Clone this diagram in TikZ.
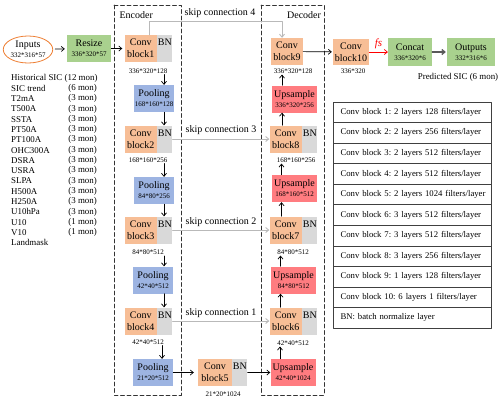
\documentclass[tikz,border=0pt]{standalone}
\usepackage{fontspec}
\setmainfont{Liberation Serif}
\usetikzlibrary{arrows.meta, calc, positioning, shapes}
\definecolor{convorange}{RGB}{247,190,150}
\definecolor{bngrey}{RGB}{217,217,217}
\definecolor{poolblue}{RGB}{157,180,226}
\definecolor{upred}{RGB}{255,124,128}
\definecolor{iogreen}{RGB}{169,209,142}
\definecolor{inorange}{RGB}{237,125,49}
\definecolor{skipgrey}{RGB}{185,185,185}
\newcommand{\dimsize}{\fontsize{7}{8}\selectfont}
\frenchspacing

\begin{document}
\begin{tikzpicture}[x=1pt, y=-1pt, line cap=round, line join=round,
	>={Straight Barb[length=3pt,width=5pt]},
	font=\fontsize{10}{12}\selectfont,
	box/.style={minimum height=27pt, inner sep=0pt, align=center},
	convbox/.style={box, fill=convorange, minimum width=32.5pt},
	bnbox/.style={box, fill=bngrey, minimum width=15pt},
	poolbox/.style={box, fill=poolblue, minimum width=40pt},
	upbox/.style={box, fill=upred, minimum width=45pt},
	greenbox/.style={box, fill=iogreen, minimum width=44pt},
	dimlabel/.style={font=\dimsize, inner sep=1pt},
	listtext/.style={font=\fontsize{8.9}{10}\selectfont, inner sep=0pt},
	tabrow/.style={draw=black!75, line width=0.6pt, minimum height=20.55pt, inner xsep=7pt, inner ysep=0pt,
		text width=143.5pt, align=left, font=\fontsize{8.7}{10}\selectfont},
	frame/.style={dashed, dash pattern=on 4pt off 2.5pt, line width=0.8pt, black!80},
	skip/.style={->, skipgrey, line width=0.9pt},
	arrow/.style={->, line width=0.7pt}]
	\useasboundingbox (0,0) rectangle (500,402);

	% encoder and decoder frames
	\draw[frame] (114,5) rectangle (181,395);
	\draw[frame] (261,5) rectangle (324,395);
	\node[anchor=west] (enc) at (116,15) {Encoder};
	\node[anchor=east] (dec) at (324.5,15) {Decoder};

	% inputs
	\node[ellipse, draw=inorange, line width=0.8pt, minimum width=46pt, minimum height=27pt, inner sep=0pt, align=center]
		(inputs) at (28,49.5) {Inputs\\[-2pt]{\dimsize 332*316*57}};
	\node[greenbox] (resize) at (89,48.5) {Resize\\[-2pt]{\dimsize 336*320*57}};
	\node[listtext, anchor=west] (hist) at (11,78) {Historical SIC (12 mon)};
	\foreach \var/\mon [count=\i] in {SIC trend/6, T2mA/3, T500A/3, SSTA/3, PT50A/3, PT100A/3, OHC300A/3,
		DSRA/3, USRA/3, SLPA/3, H500A/3, H250A/3, U10hPa/3, U10/1, V10/1} {
		\node[listtext, anchor=west] (var\i) at (11,78+\i*10.3) {\var};
		\node[listtext, anchor=east] (mon\i) at (97,78+\i*10.3) {(\mon\ mon)};
	}
	\node[listtext, anchor=west] (landmask) at (11,242.8) {Landmask};

	% encoder
	\node[convbox] (conv1) at (140.75,48.5) {Conv\\block1};
	\node[bnbox, right=0pt of conv1] (bn1) {BN\\\phantom{b}};
	\node[dimlabel] (dim1) at (148,71) {336*320*128};
	\node[poolbox] (pool1) at (154,98.5) {Pooling\\[-2pt]{\dimsize 168*160*128}};
	\node[convbox] (conv2) at (140.75,139) {Conv\\block2};
	\node[bnbox, right=0pt of conv2] (bn2) {BN\\\phantom{b}};
	\node[dimlabel] (dim2) at (148,160) {168*160*256};
	\node[poolbox] (pool2) at (154,190.5) {Pooling\\[-2pt]{\dimsize 84*80*256}};
	\node[convbox] (conv3) at (140.75,230) {Conv\\block3};
	\node[bnbox, right=0pt of conv3] (bn3) {BN\\\phantom{b}};
	\node[dimlabel] (dim3) at (148,252.5) {84*80*512};
	\node[poolbox] (pool3) at (153,280) {Pooling\\[-2pt]{\dimsize 42*40*512}};
	\node[convbox] (conv4) at (140.75,321) {Conv\\block4};
	\node[bnbox, right=0pt of conv4] (bn4) {BN\\\phantom{b}};
	\node[dimlabel] (dim4) at (148,342) {42*40*512};
	\node[poolbox] (pool4) at (153,372.5) {Pooling\\[-2pt]{\dimsize 21*20*512}};

	% bottleneck
	\node[convbox, minimum width=34pt] (conv5) at (215,372.5) {Conv\\block5};
	\node[bnbox, right=0pt of conv5] (bn5) {BN\\\phantom{b}};
	\node[dimlabel] (dim5) at (223,394) {21*20*1024};

	% decoder
	\node[convbox, minimum width=32pt] (conv9) at (287,51.5) {Conv\\block9};
	\node[dimlabel] (dim9) at (293,71) {336*320*128};
	\node[upbox] (up1) at (294.5,99) {Upsample\\[-2pt]{\dimsize 336*320*256}};
	\node[convbox] (conv8) at (285.75,139) {Conv\\block8};
	\node[bnbox, right=0pt of conv8] (bn8) {BN\\\phantom{b}};
	\node[dimlabel] (dim8) at (296,160) {168*160*256};
	\node[upbox] (up2) at (294.5,188.5) {Upsample\\[-2pt]{\dimsize 168*160*512}};
	\node[convbox] (conv7) at (285.75,230) {Conv\\block7};
	\node[bnbox, right=0pt of conv7] (bn7) {BN\\\phantom{b}};
	\node[dimlabel] (dim7) at (293,252) {84*80*512};
	\node[upbox] (up3) at (293.5,280) {Upsample\\[-2pt]{\dimsize 84*80*512}};
	\node[convbox] (conv6) at (285.75,321) {Conv\\block6};
	\node[bnbox, right=0pt of conv6] (bn6) {BN\\\phantom{b}};
	\node[dimlabel] (dim6) at (293,343) {42*40*512};
	\node[upbox] (up4) at (293,372.5) {Upsample\\[-2pt]{\dimsize 42*40*1024}};

	% output part
	\node[convbox, minimum width=36pt, minimum height=26pt] (conv10) at (351,52) {Conv\\block10};
	\node[dimlabel] (dim10) at (353,71) {336*320};
	\node[greenbox, minimum height=28pt] (concat) at (410,52) {Concat\\[-2pt]{\dimsize 336*320*6}};
	\node[greenbox, minimum width=48pt, minimum height=28pt] (outputs) at (471,52) {Outputs\\[-2pt]{\dimsize 332*316*6}};
	\node[listtext] (pred) at (458,77) {Predicted SIC (6 mon)};

	% table of blocks
	\foreach \row [count=\i] in {Conv block 1: 2 layers 128 filters/layer, Conv block 2: 2 layers 256 filters/layer,
		Conv block 3: 2 layers 512 filters/layer, Conv block 4: 2 layers 512 filters/layer,
		Conv block 5: 2 layers 1024 filters/layer, Conv block 6: 3 layers 512 filters/layer,
		Conv block 7: 3 layers 512 filters/layer, Conv block 8: 3 layers 256 filters/layer,
		Conv block 9: 1 layers 128 filters/layer, Conv block 10: 6 layers 1 filters/layer,
		BN: batch normalize layer}
		\node[tabrow] (row\i) at (412.25,91.73+\i*20.55) {\mbox{\row}};

	% arrows
	\draw[arrow, shorten <=2pt, shorten >=2pt] (inputs) -- (resize);
	\draw[arrow, shorten >=2pt] (resize) -- (conv1);
	\draw[arrow] ([xshift=10pt]pool1.north |- dim1.south) -- ([xshift=10pt]pool1.north);
	\draw[arrow] ([xshift=10pt]pool1.south) -- ([xshift=10pt]pool1.south |- conv2.north);
	\draw[arrow] ([xshift=10pt]pool2.north |- dim2.south) -- ([xshift=10pt]pool2.north);
	\draw[arrow] ([xshift=10pt]pool2.south) -- ([xshift=10pt]pool2.south |- conv3.north);
	\draw[arrow] ([xshift=11pt]pool3.north |- dim3.south) -- ([xshift=11pt]pool3.north);
	\draw[arrow] ([xshift=11pt]pool3.south) -- ([xshift=11pt]pool3.south |- conv4.north);
	\draw[arrow] ([xshift=9pt]pool4.north |- dim4.south) -- ([xshift=9pt]pool4.north);
	\draw[arrow, shorten >=4pt] (pool4) -- (conv5);
	\draw[arrow] (bn5) -- (up4);
	\draw[arrow] ([xshift=-13pt]up4.north) -- ([xshift=-13pt]up4.north |- dim6.south);
	\draw[arrow] ([xshift=-13pt]up3.south |- conv6.north) -- ([xshift=-13pt]up3.south);
	\draw[arrow] ([xshift=-13pt]up3.north) -- ([xshift=-13pt]up3.north |- dim7.south);
	\draw[arrow] ([xshift=-13pt]up2.south |- conv7.north) -- ([xshift=-13pt]up2.south);
	\draw[arrow] ([xshift=-13pt]up2.north) -- ([xshift=-13pt]up2.north |- dim8.south);
	\draw[arrow] ([xshift=-12.5pt]up1.south |- conv8.north) -- ([xshift=-12.5pt]up1.south);
	\draw[arrow] ([xshift=-12.5pt]up1.north) -- ([xshift=-12.5pt]up1.north |- dim9.south);
	\draw[arrow, shorten >=1pt] (conv9) -- (conv10);
	\draw[arrow, red] (conv10) -- node[above=-1pt, font=\fontsize{11}{12}\selectfont] (fs) {\textit{fs}} (concat);
	\draw[->, black!65, line width=1.3pt, shorten >=1pt] (concat) -- (outputs);

	% skip connections
	\draw[skip] ([xshift=9pt]conv1.north) -- ++(0,-13) -| ([xshift=-5pt]conv9.north);
	\node (skip4) at (220,13) {skip connection 4};
	\draw[skip] (bn2) -- (conv8);
	\node (skip3) at (221,130) {skip connection 3};
	\draw[skip] (bn3) -- (conv7);
	\node (skip2) at (221,222) {skip connection 2};
	\draw[skip] (bn4) -- (conv6);
	\node (skip1) at (221,313) {skip connection 1};
\end{tikzpicture}
\end{document}
